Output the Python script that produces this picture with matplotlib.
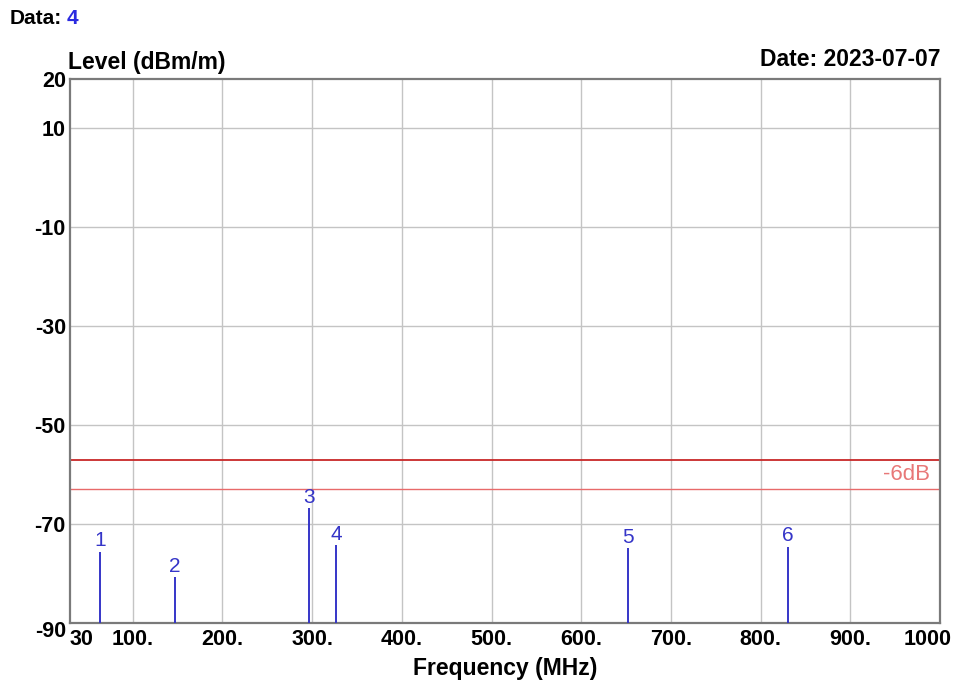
import matplotlib
matplotlib.use("Agg")
import matplotlib.pyplot as plt
import matplotlib.ticker as ticker
from matplotlib.transforms import ScaledTranslation

# --- data ---
peak_no = ["1", "2", "3", "4", "5", "6"]
peak_freq = [63.4, 147.0, 297.0, 327.0, 652.5, 830.0]      # MHz
peak_level = [-75.6, -80.7, -66.8, -74.3, -74.9, -74.6]   # dBm/m

limit_level = -57.0
margin_level = -63.0   # limit - 6 dB

x_ticks = [30, 100, 200, 300, 400, 500, 600, 700, 800, 900, 1000]
x_labels = ["30", "100.", "200.", "300.", "400.", "500.", "600.", "700.", "800.", "900.", "1000"]
y_ticks = [20, 10, -10, -30, -50, -70, -90]

BLUE = "#3535c8"
FONT = "Liberation Sans"

plt.rcParams["font.family"] = [FONT, "DejaVu Sans"]

fig = plt.figure(figsize=(9.61, 6.86), dpi=100)
ax = fig.add_axes([70 / 961, 1 - 623 / 686, 870 / 961, 544 / 686])

ax.set_xlim(30, 1000)
ax.set_ylim(-90, 20)

# grid
for gx in x_ticks[1:-1]:
    ax.axvline(gx, color="#c4c4c4", lw=1.0, zorder=1)
for gy in y_ticks[1:-1]:
    ax.axhline(gy, color="#c4c4c4", lw=1.0, zorder=1)

# limit lines
ax.axhline(limit_level, color="#c82828", lw=1.3, zorder=2)
ax.axhline(margin_level, color="#e86a6a", lw=1.0, zorder=2)
ax.text(989, (limit_level + margin_level) / 2, "-6dB", color="#e87878",
        fontsize=16, ha="right", va="center", zorder=3)

# peaks
ax.vlines(peak_freq, -90, peak_level, color=BLUE, lw=1.4, zorder=3)
for n, f, lv in zip(peak_no, peak_freq, peak_level):
    ax.annotate(n, (f, lv), xytext=(0, 1), textcoords="offset points",
                ha="center", va="bottom", color=BLUE, fontsize=15)

# ticks
ax.xaxis.set_major_locator(ticker.FixedLocator(x_ticks))
ax.set_xticklabels(x_labels, fontsize=15.5, fontweight="bold")
ax.yaxis.set_major_locator(ticker.FixedLocator(y_ticks))
ax.set_yticklabels([str(v) for v in y_ticks], fontsize=15.5, fontweight="bold")
ax.tick_params(length=0)
ax.tick_params(axis="x", pad=4)
ax.tick_params(axis="y", pad=3)
xt = ax.get_xticklabels()
xt[0].set_ha("left")
xt[-1].set_ha("right")
xt[-1].set_transform(xt[-1].get_transform() + ScaledTranslation(12 / 100, 0, fig.dpi_scale_trans))
yt = ax.get_yticklabels()
yt[-1].set_transform(yt[-1].get_transform() + ScaledTranslation(0, -6 / 100, fig.dpi_scale_trans))

for s in ax.spines.values():
    s.set_color("#7a7a7a")
    s.set_linewidth(1.6)

# texts
fig.text(10 / 961, 1 - 18 / 686, "Data:", fontsize=15, fontweight="bold", va="center")
fig.text(67 / 961, 1 - 18 / 686, "4", fontsize=15, fontweight="bold", va="center", color="#2a2ae0")
fig.text(68 / 961, 1 - 62 / 686, "Level (dBm/m)", fontsize=16.5, fontweight="bold", va="center")
fig.text(940 / 961, 1 - 60 / 686, "Date: 2023-07-07", fontsize=16.5, fontweight="bold",
         va="center", ha="right")
fig.text(505 / 961, 1 - 668 / 686, "Frequency (MHz)", fontsize=16.5, fontweight="bold",
         va="center", ha="center")

fig.savefig("out.png", dpi=100, facecolor="white")
